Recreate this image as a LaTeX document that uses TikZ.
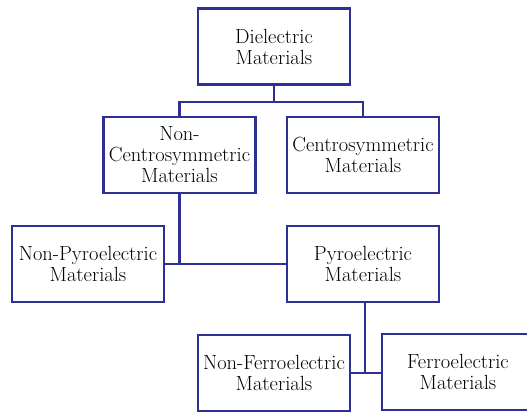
\documentclass[tikz,border=0pt]{standalone}
\usepackage{fontspec}
\usetikzlibrary{positioning}
\definecolor{navy}{RGB}{46,49,146}

\begin{document}
\begin{tikzpicture}[
      x=1pt, y=-1pt,
      font=\fontsize{20.5}{21}\selectfont,
      box/.style={
        draw=navy,
        fill=white,
        line width=2.4pt,
        align=center,
        inner sep=0pt,
        minimum width=152pt,
        minimum height=76pt
      },
      conn/.style={draw=navy, line width=2.4pt}
    ]
    \useasboundingbox (0,0) rectangle (527,412);

    \node[box] (diel) at (274,46.5)
    {Dielectric\\Materials};

    \node[box] (noncentro) at (179.5,155)
    {Non-\\Centrosymmetric\\Materials};

    \node[box] (centro) at (363,155)
    {Centrosymmetric\\Materials};

    \node[box] (nonpyro) at (88,264)
    {Non-Pyroelectric\\Materials};

    \node[box] (pyro) at (363,264)
    {Pyroelectric\\Materials};

    \node[box] (nonferro) at (274,373)
    {Non-Ferroelectric\\Materials};

    \node[box] (ferro) at (458,372)
    {Ferroelectric\\Materials};

    \draw[conn] (diel.south) -- ++(0,16) -| (noncentro.north);
    \draw[conn] (diel.south) -- ++(0,16) -| (centro.north);
    \draw[conn] (noncentro.south) -- (noncentro.south |- nonpyro.east);
    \draw[conn] (nonpyro.east) -- (pyro.west);
    \draw[conn] ([xshift=2pt]pyro.south) -- ([xshift=2pt]pyro.south |- nonferro.east);
    \draw[conn] (nonferro.east) -- (ferro.west |- nonferro.east);
    \end{tikzpicture}
\end{document}
